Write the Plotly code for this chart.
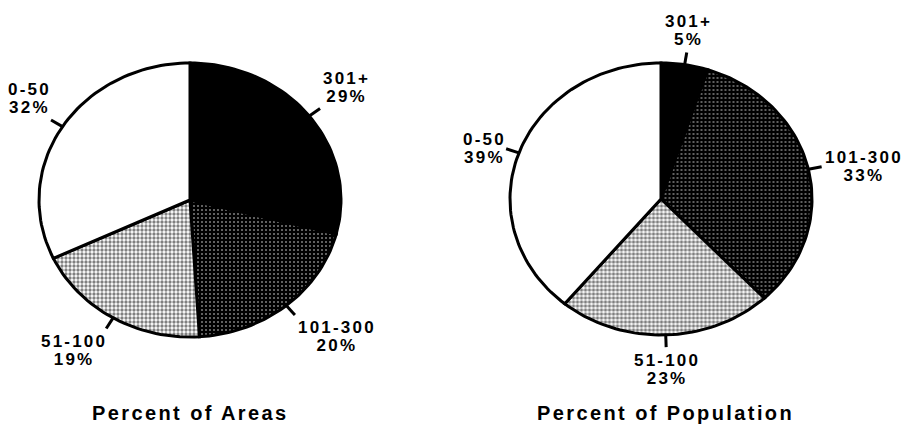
import numpy as np
import plotly.graph_objects as go

# ---- data -------------------------------------------------------------
categories = ["301+", "101-300", "51-100", "0-50"]
area_pct = [29, 20, 19, 32]
population_pct = [5, 33, 23, 39]
chart_titles = ["Percent of Areas", "Percent of Population"]

# ---- layout / styling -------------------------------------------------
W, H = 903, 427
FONT = "Liberation Sans"
# pie placement in pixels: centre x, centre y (from top), radius x, radius y
PIES = [
    dict(cx=190, cy=200, rx=151, ry=137, dom=(0.0, 0.5), title_x=0.0),
    dict(cx=661, cy=199, rx=151, ry=136, dom=(0.5, 1.0), title_x=0.03),
]
TITLE_Y_PX = 413

SLICE_STYLE = {
    "301+": dict(fillcolor="black"),
    "101-300": dict(fillcolor="black",
                    fillpattern=dict(shape=".", bgcolor="black", fgcolor="white",
                                     size=4, solidity=0.2)),
    "51-100": dict(fillcolor="white",
                   fillpattern=dict(shape=".", bgcolor="white", fgcolor="black",
                                    size=4, solidity=0.55)),
    "0-50": dict(fillcolor="white"),
}

TICK_IN, TICK_OUT, LABEL_R = 1.0, 1.09, 1.10
LETTER_SPACING = 2.2
LABEL_STYLE = f"font-size:17px;letter-spacing:{LETTER_SPACING}px"
TITLE_STYLE = "letter-spacing:2.4px"


def styled(text, style):
    return f'<span style="{style}">{text}</span>'


fig = go.Figure()

for i, (values, pie) in enumerate(zip([area_pct, population_pct], PIES)):
    xa = "x" if i == 0 else f"x{i + 1}"
    ya = "y" if i == 0 else f"y{i + 1}"
    total = float(sum(values))
    start = 0.0
    tick_x, tick_y = [], []
    for cat, val in zip(categories, values):
        frac0, frac1 = start / total, (start + val) / total
        start += val
        th = np.linspace(frac0, frac1, max(8, int(200 * (frac1 - frac0)))) * 2 * np.pi
        xs = np.concatenate([[0.0], np.sin(th), [0.0]])
        ys = np.concatenate([[0.0], np.cos(th), [0.0]])
        fig.add_trace(go.Scatter(
            x=xs, y=ys, mode="lines", fill="toself",
            line=dict(color="black", width=3),
            hoverinfo="skip", showlegend=False,
            xaxis=xa, yaxis=ya, **SLICE_STYLE[cat],
        ))

        # leader tick and label at slice midpoint
        mid = (frac0 + frac1) / 2 * 2 * np.pi
        s, c = np.sin(mid), np.cos(mid)
        tick_x += [TICK_IN * s, TICK_OUT * s, None]
        tick_y += [TICK_IN * c, TICK_OUT * c, None]
        xanchor = "center" if abs(s) < 0.3 else ("left" if s > 0 else "right")
        yanchor = "middle" if abs(c) < 0.4 else ("bottom" if c > 0 else "top")
        # letter-spacing leaves a trailing gap after the last glyph
        xshift = {"right": LETTER_SPACING + 1, "center": LETTER_SPACING / 2, "left": 0}[xanchor]
        # base size 13.5 sets a tight line pitch; glyphs themselves are larger
        fig.add_annotation(
            x=LABEL_R * s, y=LABEL_R * c, xref=xa, yref=ya, xshift=xshift,
            text=styled(cat, LABEL_STYLE) + "<br>" + styled(f"{val}%", LABEL_STYLE),
            showarrow=False, align="center",
            xanchor=xanchor, yanchor=yanchor,
            font=dict(family=FONT, size=13.5, color="black", weight="bold"),
        )

    fig.add_trace(go.Scatter(
        x=tick_x, y=tick_y, mode="lines",
        line=dict(color="black", width=3),
        hoverinfo="skip", showlegend=False, xaxis=xa, yaxis=ya,
    ))

    fig.add_annotation(
        x=pie["title_x"], y=(H - TITLE_Y_PX) / H, xref=xa, yref="paper",
        text=styled(chart_titles[i], TITLE_STYLE), showarrow=False,
        xanchor="center", yanchor="middle",
        font=dict(family=FONT, size=20, color="black", weight="bold"),
    )

    d0, d1 = pie["dom"]
    xr = [(d0 * W - pie["cx"]) / pie["rx"], (d1 * W - pie["cx"]) / pie["rx"]]
    yr = [-(H - pie["cy"]) / pie["ry"], pie["cy"] / pie["ry"]]
    axis_common = dict(visible=False, fixedrange=True, showgrid=False, zeroline=False)
    fig.update_layout(**{
        ("xaxis" if i == 0 else f"xaxis{i + 1}"): dict(domain=[d0, d1], range=xr,
                                                       anchor=ya, **axis_common),
        ("yaxis" if i == 0 else f"yaxis{i + 1}"): dict(domain=[0, 1], range=yr,
                                                       anchor=xa, **axis_common),
    })

fig.update_layout(
    width=W, height=H, autosize=False,
    margin=dict(l=0, r=0, t=0, b=0),
    paper_bgcolor="white", plot_bgcolor="white",
)

fig.write_html("out.html")
